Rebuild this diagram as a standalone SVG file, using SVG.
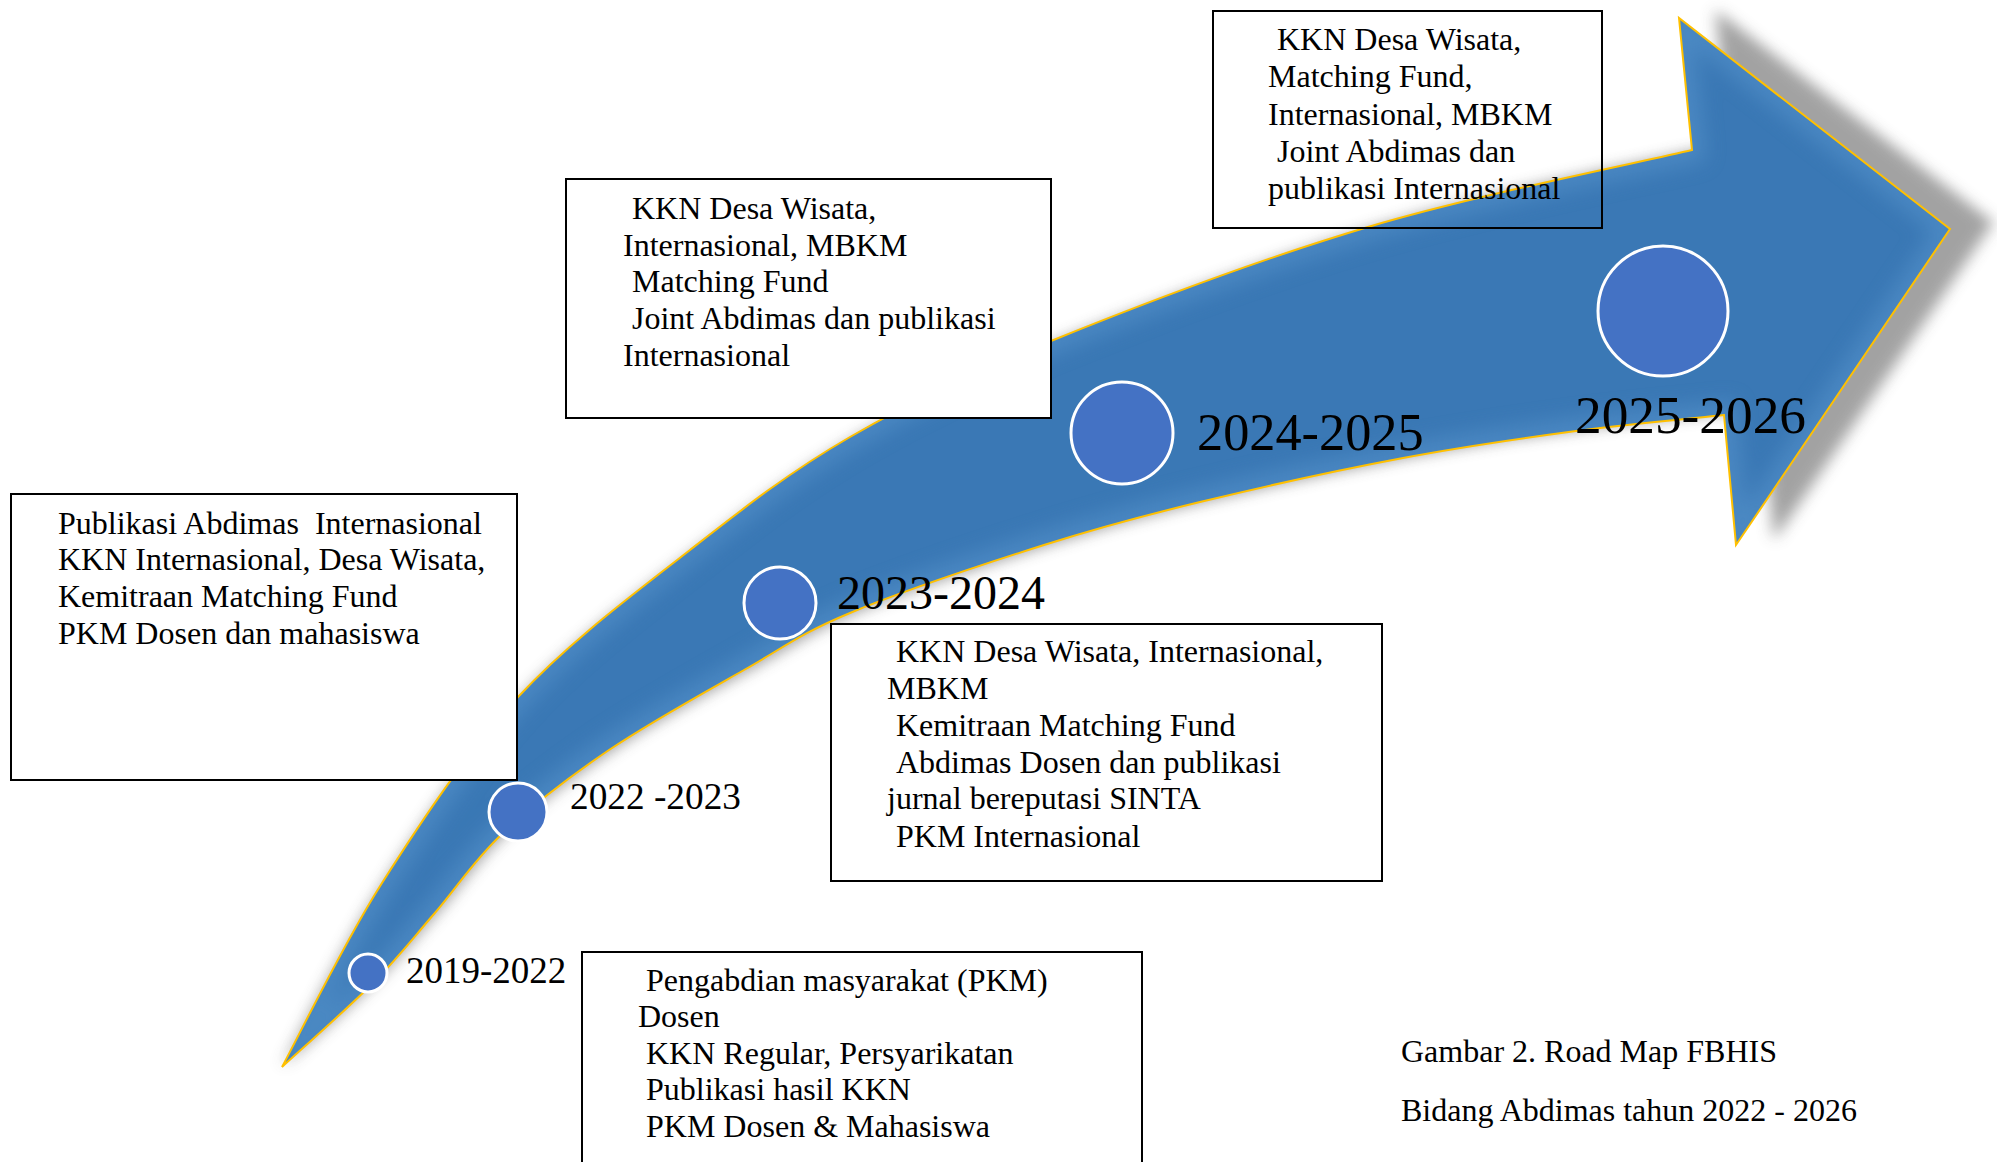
<svg xmlns="http://www.w3.org/2000/svg" width="1997" height="1162" viewBox="0 0 1997 1162">
<defs>
<style>
.box{fill:#fff;stroke:#000;stroke-width:2}
.boxT{fill:none;stroke:#000;stroke-width:2}
.t{font-family:"Liberation Serif","Times New Roman",serif;font-size:32px;fill:#000}
.yr{font-family:"Liberation Serif","Times New Roman",serif;fill:#000}
.dot{fill:#4472C4;stroke:#fff;stroke-width:3}
</style>
<path id="arrowPath" d="M282,1067 C298.7,1036.3 342.7,944.7 382,883 C421.3,821.3 466.7,752.5 518,697 C569.3,641.5 634.7,593.3 690,550 C745.3,506.7 789.8,471.8 850,437 C910.2,402.2 964.7,376 1051,341 C1137.3,306 1261.2,258.8 1368,227 C1474.8,195.2 1638,162.8 1692,150 L1679,18 L1950,229 L1736,545 L1724,415 C1699.3,417.7 1629.5,423.8 1576,431 C1522.5,438.2 1465.7,446.2 1403,458 C1340.3,469.8 1259.8,487.5 1200,502 C1140.2,516.5 1102.3,526.5 1044,545 C985.7,563.5 900,592.2 850,613 C800,633.8 784.2,647.2 744,670 C703.8,692.8 649.2,722.8 609,750 C568.8,777.2 532.2,805.7 503,833 C473.8,860.3 455.7,889 434,914 C412.3,939 398.3,957.5 373,983 C347.7,1008.5 297.2,1053 282,1067 Z"/>
<filter id="blur" x="-10%" y="-10%" width="120%" height="120%"><feGaussianBlur stdDeviation="7"/></filter>
<filter id="blur2" x="-10%" y="-10%" width="120%" height="120%"><feGaussianBlur stdDeviation="10"/></filter>
<clipPath id="arrowClip"><use href="#arrowPath"/></clipPath>
</defs>
<rect width="1997" height="1162" fill="#fff"/>
<g id="timeline-arrow">
<use href="#arrowPath" fill="#999999" opacity="0.9" filter="url(#blur)" transform="translate(282,1067) scale(1.026,1.008) translate(-282,-1067)"/>
<use href="#arrowPath" fill="#3A78B5"/>
<g clip-path="url(#arrowClip)"><use href="#arrowPath" fill="none" stroke="#5C99D0" stroke-width="26" opacity="0.5" filter="url(#blur2)"/></g>
<use href="#arrowPath" fill="none" stroke="#FFC000" stroke-width="2"/>
</g>
<g id="connectors"></g>
<g id="node-2019-2022">
<circle class="dot" cx="368" cy="973" r="19"/>
<text class="yr" x="406" y="983" font-size="37">2019-2022</text>
</g>
<g id="node-2022-2023">
<circle class="dot" cx="518" cy="812" r="29"/>
<text class="yr" x="570" y="809" font-size="37.3">2022 -2023</text>
</g>
<g id="node-2023-2024">
<circle class="dot" cx="780" cy="603" r="36"/>
<text class="yr" x="837" y="609" font-size="48">2023-2024</text>
</g>
<g id="node-2024-2025">
<circle class="dot" cx="1122" cy="433" r="51"/>
<text class="yr" x="1197" y="450" font-size="52.3">2024-2025</text>
</g>
<g id="node-2025-2026">
<circle class="dot" cx="1663" cy="311" r="65"/>
<text class="yr" x="1575" y="433" font-size="53.3">2025-2026</text>
</g>
<g id="box-2025-2026">
<rect class="boxT" x="1213" y="11" width="389" height="217"/>
<text class="t" x="1277" y="50">KKN Desa Wisata,</text>
<text class="t" x="1268" y="87">Matching Fund,</text>
<text class="t" x="1268" y="125">Internasional, MBKM</text>
<text class="t" x="1277" y="162">Joint Abdimas dan</text>
<text class="t" x="1268" y="199">publikasi Internasional</text>
</g>
<g id="box-2024-2025">
<rect class="box" x="566" y="179" width="485" height="239"/>
<text class="t" x="632" y="219">KKN Desa Wisata,</text>
<text class="t" x="623" y="256">Internasional, MBKM</text>
<text class="t" x="632" y="292">Matching Fund</text>
<text class="t" x="632" y="329">Joint Abdimas dan publikasi</text>
<text class="t" x="623" y="366">Internasional</text>
</g>
<g id="box-2023-2024">
<rect class="box" x="831" y="624" width="551" height="257"/>
<text class="t" x="896" y="662">KKN Desa Wisata, Internasional,</text>
<text class="t" x="887" y="699">MBKM</text>
<text class="t" x="896" y="736">Kemitraan Matching Fund</text>
<text class="t" x="896" y="773">Abdimas Dosen dan publikasi</text>
<text class="t" x="887" y="809">jurnal bereputasi SINTA</text>
<text class="t" x="896" y="847">PKM Internasional</text>
</g>
<g id="box-2019-2022">
<rect class="box" x="582" y="952" width="560" height="230"/>
<text class="t" x="646" y="991">Pengabdian masyarakat (PKM)</text>
<text class="t" x="638" y="1027">Dosen</text>
<text class="t" x="646" y="1064">KKN Regular, Persyarikatan</text>
<text class="t" x="646" y="1100">Publikasi hasil KKN</text>
<text class="t" x="646" y="1137">PKM Dosen &amp; Mahasiswa</text>
</g>
<g id="box-2022-2023">
<rect class="box" x="11" y="494" width="506" height="286"/>
<text class="t" x="58" y="534" xml:space="preserve">Publikasi Abdimas  Internasional</text>
<text class="t" x="58" y="570">KKN Internasional, Desa Wisata,</text>
<text class="t" x="58" y="607">Kemitraan Matching Fund</text>
<text class="t" x="58" y="644">PKM Dosen dan mahasiswa</text>
</g>
<g id="caption">
<text class="t" x="1401" y="1062">Gambar 2. Road Map FBHIS</text>
<text class="t" x="1401" y="1121">Bidang Abdimas tahun 2022 - 2026</text>
</g>
</svg>
